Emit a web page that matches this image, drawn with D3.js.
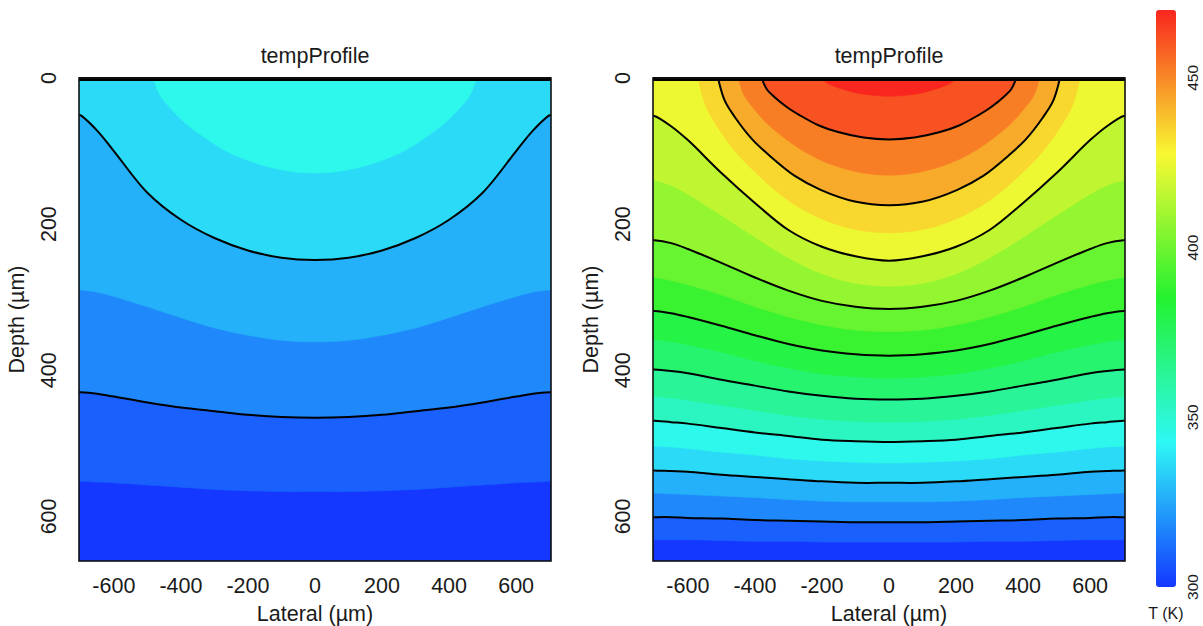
<!DOCTYPE html>
<html><head><meta charset="utf-8">
<script src="https://cdn.jsdelivr.net/npm/d3@7"></script>
<style>
body{margin:0;background:#fff;}
text{font-family:"Liberation Sans",Arial,Helvetica,sans-serif;fill:#1a1a1a;}
</style>
</head><body>
<svg id="chart" width="1203" height="626"></svg>
<script>
// ---------------- data ----------------
const levels = [300,308.5,317,325.5,334,342.5,351,359.5,368,376.5,385,393.5,402,410.5,419,427.5,436,444.5,453,461.5,470];
const lineLevels = [317,334,351,368,385,402,419,436,453];
const xTicks = [-600,-400,-200,0,200,400,600];
const yTicks = [0,200,400,600];
const cbTicks = [300,350,400,450];
const paletteColors = ["#1438ff","#2ef8f5","#24f230","#f8f832","#f8261e"];
const panelTitle = "tempProfile";
const xLabel = "Lateral (\u00b5m)";
const yLabel = "Depth (\u00b5m)";
const cbLabel = "T (K)";

// isotherms spanning the full width: depth (µm) at these lateral positions (mirrored)
const lateralGrid = [0,100,200,300,400,500,600,650,700];

const rightEdgeLevels = [419,410.5,402,393.5,385,376.5,368,359.5,351,342.5,334,325.5,317,308.5];
const rightEdgeDepths = [
  [250,244,231,208,171,130,85,66,52],
  [285,281,268,246,218,188,159,147,140],
  [316,313,305,291,273,253,234,226,222],
  [347,345,338,327,313,297,283,277,273],
  [380,378,373,364,352,339,327,322,319],
  [411,409,405,397,387,375,365,361,358],
  [440,439,435,429,421,413,404,401,399],
  [471,470,467,462,455,448,441,438,436],
  [498,497,495,490,485,479,473,471,469],
  [527,526,524,521,516,512,507,505,504],
  [554,554,552,549,546,543,539,538,537],
  [580,580,579,577,574,572,570,569,568],
  [608,608,607,606,605,603,602,601,601],
  [635,635,635,634,634,633,632,632,632]
];
// isotherms that close on the surface: lateral / depth pairs (mirrored)
const rightArcLevels = [427.5,436,444.5,453,461.5];
const rightArcLateral = [
  [0,114,228,314,399,456,513,547,570],
  [0,102,204,281,357,408,459,490,510],
  [0,90,180,248,315,360,405,432,450],
  [0,76,152,209,266,304,342,365,380],
  [0,40,80,110,140,160,180,192,200]
];
const rightArcDepth = [
  [212,206,187,163,129,102,66,38,0],
  [174,169,153,134,106,84,54,31,0],
  [133,129,117,102,81,64,41,24,0],
  [84,81.5,74,65,51,40,26,15,0],
  [25,24,22,19,15,12,8,4.5,0]
];

const leftEdgeLevels = [334,325.5,317,308.5];
const leftEdgeDepths = [
  [249,246,236,219,194,157,100,72,51],
  [361,359,352,342,328,313,299,293,290],
  [465,464,461,456,451,444,436,432,430],
  [566,566,565,563,560,557,554,553,552]
];
const leftArcLevels = [342.5];
const leftArcLateral = [[0,96,193,265,337,386,434,463,482]];
const leftArcDepth = [[130,126,114,100,79,62,40,23,0]];

// ---------------- layout ----------------
const svg = d3.select("#chart");
const xDomain = [-704, 704];
const yDomain = [0, 661];
const yRange = [78, 561];
const panels = [
  {id:"L", x0:79, x1:551, edgeLevels:leftEdgeLevels, edgeDepths:leftEdgeDepths,
   arcLevels:leftArcLevels, arcLat:leftArcLateral, arcDep:leftArcDepth, tickX:55.5, titleX:24},
  {id:"R", x0:653, x1:1125, edgeLevels:rightEdgeLevels, edgeDepths:rightEdgeDepths,
   arcLevels:rightArcLevels, arcLat:rightArcLateral, arcDep:rightArcDepth, tickX:630, titleX:598}
];

const palette = d3.scaleLinear().domain([0,0.25,0.5,0.75,1]).range(paletteColors).interpolate(d3.interpolateRgb);
const nBands = levels.length - 1;
const bandColor = k => palette(k/(nBands-1));

const defs = svg.append("defs");

panels.forEach(p => {
  const x = d3.scaleLinear().domain(xDomain).range([p.x0, p.x1]);
  const y = d3.scaleLinear().domain(yDomain).range(yRange);
  const line = d3.line().x(d=>x(d[0])).y(d=>y(d[1])).curve(d3.curveCatmullRom.alpha(0.5));

  defs.append("clipPath").attr("id","clip"+p.id)
    .append("rect").attr("x",p.x0).attr("y",yRange[0]).attr("width",p.x1-p.x0).attr("height",yRange[1]-yRange[0]);

  const iso = [];
  p.edgeLevels.forEach((L,i) => {
    const d = p.edgeDepths[i];
    const pts = [];
    for (let j=lateralGrid.length-1;j>0;j--) pts.push([-lateralGrid[j], d[j]]);
    for (let j=0;j<lateralGrid.length;j++) pts.push([lateralGrid[j], d[j]]);
    const last = d[d.length-1];
    pts.unshift([xDomain[0], last]);
    pts.push([xDomain[1], last]);
    iso.push({level:L, pts, arc:false});
  });
  p.arcLevels.forEach((L,i) => {
    const lat = p.arcLat[i], dep = p.arcDep[i];
    const pts = [];
    for (let j=lat.length-1;j>0;j--) pts.push([-lat[j], dep[j]]);
    for (let j=0;j<lat.length;j++) pts.push([lat[j], dep[j]]);
    iso.push({level:L, pts, arc:true});
  });
  iso.sort((a,b)=>a.level-b.level);

  const g = svg.append("g").attr("clip-path","url(#clip"+p.id+")");
  g.append("rect").attr("x",p.x0).attr("y",yRange[0]).attr("width",p.x1-p.x0).attr("height",yRange[1]-yRange[0])
    .attr("fill", bandColor(0));

  iso.forEach(s => {
    const k = levels.indexOf(s.level);
    let dPath = line(s.pts);
    if (!s.arc) {
      dPath += "L" + x(xDomain[1]) + "," + y(0) + "L" + x(xDomain[0]) + "," + y(0) + "Z";
    } else {
      dPath += "Z";
    }
    g.append("path").attr("d", dPath).attr("fill", bandColor(k)).attr("stroke", bandColor(k)).attr("stroke-width",0.6);
  });

  iso.filter(s => lineLevels.includes(s.level)).forEach(s => {
    g.append("path").attr("d", line(s.pts)).attr("fill","none").attr("stroke","#000").attr("stroke-width",2);
  });

  svg.append("line").attr("x1",p.x0).attr("x2",p.x1).attr("y1",y(0)+1).attr("y2",y(0)+1)
    .attr("stroke","#000").attr("stroke-width",4);
  svg.append("rect").attr("x",p.x0).attr("y",yRange[0]).attr("width",p.x1-p.x0).attr("height",yRange[1]-yRange[0])
    .attr("fill","none").attr("stroke","#111").attr("stroke-width",1.6);

  svg.append("text").attr("x",(p.x0+p.x1)/2).attr("y",63).attr("text-anchor","middle")
    .style("font-size","21.5px").text(panelTitle);
  svg.append("g").selectAll("text").data(xTicks).join("text")
    .attr("x", d=>x(d)).attr("y",593).attr("text-anchor","middle").style("font-size","21.5px").text(d=>d);
  svg.append("text").attr("x",x(0)).attr("y",621).attr("text-anchor","middle").style("font-size","21.5px").text(xLabel);
  svg.append("g").selectAll("text").data(yTicks).join("text")
    .attr("transform", d=>`translate(${p.tickX},${y(d)}) rotate(-90)`)
    .attr("text-anchor","middle").style("font-size","21.5px").text(d=>d);
  svg.append("text").attr("transform",`translate(${p.titleX},${(yRange[0]+yRange[1])/2}) rotate(-90)`)
    .attr("text-anchor","middle").style("font-size","21.5px").text(yLabel);
});

// ---------------- colour key ----------------
const cb = {x:1156, w:20, top:10, bottom:587};
const tScale = d3.scaleLinear().domain([levels[0], levels[levels.length-1]]).range([cb.bottom, cb.top]);
const grad = defs.append("linearGradient").attr("id","cbgrad").attr("x1",0).attr("x2",0).attr("y1",1).attr("y2",0);
d3.range(0, 1.0001, 0.05).forEach(t => grad.append("stop").attr("offset", t).attr("stop-color", palette(t)));
svg.append("rect").attr("x",cb.x).attr("y",cb.top).attr("width",cb.w).attr("height",cb.bottom-cb.top)
  .attr("rx",3).attr("fill","url(#cbgrad)");
svg.append("g").selectAll("text").data(cbTicks).join("text")
  .attr("transform", d=>`translate(1198,${tScale(d)}) rotate(-90)`)
  .attr("text-anchor","middle").style("font-size","15.5px").text(d=>d);
svg.append("text").attr("x",cb.x+cb.w/2).attr("y",619).attr("text-anchor","middle").style("font-size","16px").text(cbLabel);
</script>
</body></html>
